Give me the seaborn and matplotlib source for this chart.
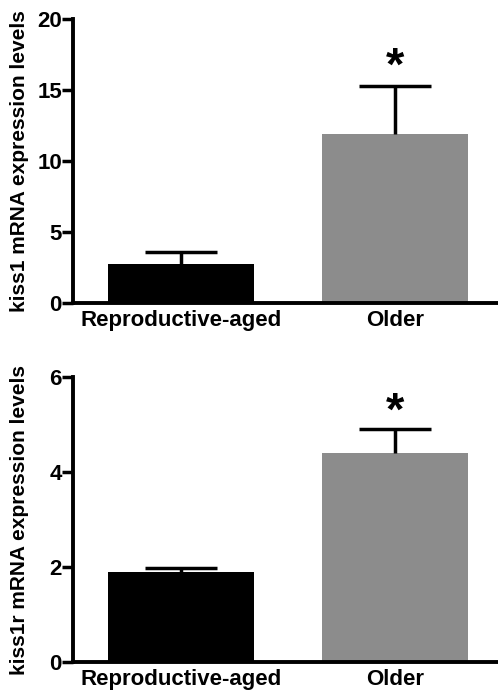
import numpy as np
import matplotlib
matplotlib.use('Agg')
import matplotlib.pyplot as plt
import seaborn as sns

groups = ['Reproductive-aged', 'Older']
bar_colors = ['#000000', '#8c8c8c']

kiss1_mean = [2.75, 11.9]
kiss1_sem = [0.85, 3.4]

kiss1r_mean = [1.9, 4.4]
kiss1r_sem = [0.08, 0.5]

sns.set_style('ticks')
plt.rcParams['font.family'] = ['Liberation Sans', 'DejaVu Sans']
plt.rcParams['font.weight'] = 'bold'
plt.rcParams['text.color'] = 'black'
plt.rcParams['axes.labelcolor'] = 'black'
plt.rcParams['axes.edgecolor'] = 'black'
plt.rcParams['xtick.color'] = 'black'
plt.rcParams['ytick.color'] = 'black'

fig = plt.figure(figsize=(4.98, 6.93), dpi=100)
ax1 = fig.add_axes([0.1466, 0.5628, 0.8534, 0.4098])
ax2 = fig.add_axes([0.1466, 0.0447, 0.8534, 0.4113])


def draw_panel(ax, means, sems, ylabel, ymax, yticks, star_y):
    sns.barplot(x=groups, y=means, hue=groups, palette=bar_colors,
                width=0.68, legend=False, ax=ax, saturation=1)
    for p in ax.patches:
        p.set_edgecolor('none')
    # upward-only error bars, drop the lower cap
    eb = ax.errorbar([0, 1], means, yerr=[[0, 0], sems], fmt='none',
                     ecolor='black', elinewidth=2.5, capsize=26, capthick=2.5)
    caps = eb[1]
    caps[0].remove()
    ax.text(1, star_y, '*', ha='center', va='center', color='black',
            fontsize=34, fontweight='bold')
    ax.set_xlim(-0.505, 1.48)
    ax.set_ylim(0, ymax)
    ax.set_yticks(yticks)
    ax.set_ylabel(ylabel, fontsize=15, fontweight='bold')
    ax.yaxis.set_label_coords(-0.104, 0.5)
    ax.tick_params(axis='y', length=8, width=2.5, labelsize=16, pad=0,
                   colors='black')
    ax.tick_params(axis='x', length=0, labelsize=16, pad=5, colors='black')
    for lab in ax.get_xticklabels() + ax.get_yticklabels():
        lab.set_fontweight('bold')
    sns.despine(ax=ax)
    ax.spines['left'].set_linewidth(2.8)
    ax.spines['bottom'].set_linewidth(2.8)


draw_panel(ax1, kiss1_mean, kiss1_sem, 'kiss1 mRNA expression levels',
           20, [0, 5, 10, 15, 20], 16.6)
draw_panel(ax2, kiss1r_mean, kiss1r_sem, 'kiss1r mRNA expression levels',
           6, [0, 2, 4, 6], 5.25)

fig.savefig('out.png', dpi=100)
